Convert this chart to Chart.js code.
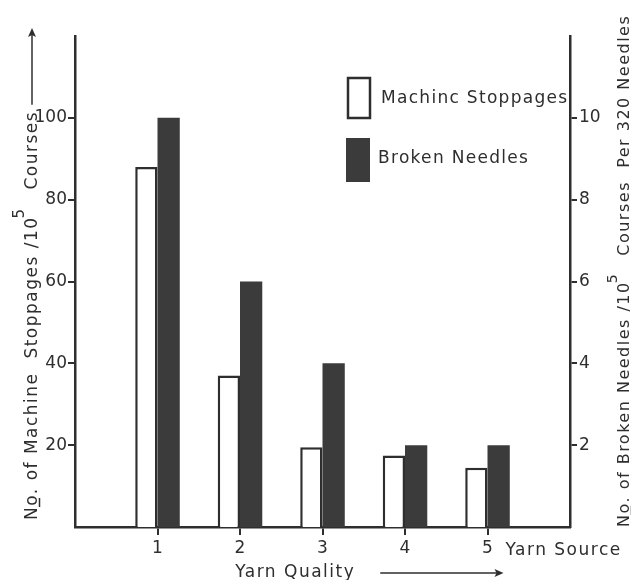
<!DOCTYPE html>
<html><head><meta charset="utf-8">
<script src="https://cdn.jsdelivr.net/npm/chart.js@4.4.0/dist/chart.umd.min.js"></script>
<style>html,body{margin:0;padding:0;background:#fff}#wrap{width:631px;height:580px}</style>
</head><body><div id="wrap"><canvas id="c" width="631" height="580"></canvas></div>
<script>
// ---- data ----
const categories = ['1', '2', '3', '4', '5'];
const machineStoppages = [88, 37, 19.5, 17.5, 14.5];   // left axis (per 10^5 courses)
const brokenNeedles = [10, 6, 4, 2, 2];                 // right axis (per 10^5 courses per 320 needles)
const leftTicks = [20, 40, 60, 80, 100];
const rightTicks = [2, 4, 6, 8, 10];
const seriesNames = ['Machinc Stoppages', 'Broken Needles'];
const xTitle = 'Yarn Quality';
const xEndLabel = 'Yarn Source';
const leftTitleSegs = [['No. of Machine  Stoppages /10', false], ['5', true], ['  Courses', false]];
const rightTitleSegs = [['No. of Broken Needles /10', false], ['5', true], ['  Courses  Per 320 Needles', false]];

const INK = '#2e2e2e';
const DARK = '#3b3b3b';
const FONT = '"DejaVu Sans", sans-serif';

const labels = ['', ...categories, ''];
const pad = arr => [null, ...arr, null];

function drawSegs(ctx, segs, size) {
  let x = 0;
  for (const [t, sup] of segs) {
    if (sup) {
      ctx.font = `${size - 2}px ${FONT}`;
      ctx.fillText(t, x - 2, -size * 0.75);
      x += ctx.measureText(t).width + 2;
    } else {
      ctx.font = `${size}px ${FONT}`;
      ctx.fillText(t, x, 0);
      x += ctx.measureText(t).width;
    }
  }
  return x;
}
function arrowHead(ctx, x, y) { // pointing +x in local frame
  ctx.beginPath();
  ctx.moveTo(x, y); ctx.lineTo(x - 9, y - 4); ctx.lineTo(x - 7, y); ctx.lineTo(x - 9, y + 4); ctx.closePath();
  ctx.fill();
}

const decor = {
  id: 'decor',
  afterDraw(chart) {
    const ctx = chart.ctx;
    ctx.save();
    ctx.fillStyle = INK; ctx.strokeStyle = INK;
    ctx.textBaseline = 'alphabetic';
    ctx.letterSpacing = '1.5px';

    // left title
    ctx.save();
    ctx.translate(37, 520); ctx.rotate(-Math.PI / 2);
    const lEnd = drawSegs(ctx, leftTitleSegs, 17);
    ctx.lineWidth = 1.5;
    ctx.beginPath(); ctx.moveTo(13, 2.5); ctx.lineTo(22, 2.5); ctx.stroke();
    const tipL = 520 - 28;
    ctx.beginPath(); ctx.moveTo(lEnd + 6, -5); ctx.lineTo(tipL - 4, -5); ctx.stroke();
    arrowHead(ctx, tipL, -5);
    ctx.restore();

    // right title
    ctx.save();
    ctx.translate(629, 527); ctx.rotate(-Math.PI / 2);
    drawSegs(ctx, rightTitleSegs, 16);
    ctx.lineWidth = 1.5;
    ctx.beginPath(); ctx.moveTo(12, 2.5); ctx.lineTo(21, 2.5); ctx.stroke();
    ctx.restore();

    // x titles
    ctx.font = `17px ${FONT}`;
    ctx.textAlign = 'left';
    const xs = chart.scales.x;
    const p5 = xs.getPixelForValue(5);
    ctx.fillText(xEndLabel, p5 + 18, 555);
    ctx.textAlign = 'center';
    ctx.fillText(xTitle, (xs.getPixelForValue(2) + xs.getPixelForValue(3)) / 2 + 14, 577);
    ctx.lineWidth = 1.5;
    const ax0 = xs.getPixelForValue(3.7), ax1 = p5 + 16;
    ctx.beginPath(); ctx.moveTo(ax0, 573); ctx.lineTo(ax1 - 4, 573); ctx.stroke();
    arrowHead(ctx, ax1, 573);

    // legend
    ctx.textAlign = 'left';
    ctx.textBaseline = 'middle';
    const lx = 348;
    ctx.lineWidth = 2.5;
    ctx.fillStyle = '#fff';
    ctx.fillRect(lx, 78, 22, 40);
    ctx.strokeRect(lx, 78, 22, 40);
    ctx.fillStyle = DARK;
    ctx.fillRect(lx - 2, 138, 24, 44);
    ctx.fillStyle = INK;
    ctx.letterSpacing = '1.3px';
    ctx.font = `17px ${FONT}`;
    ctx.fillText(seriesNames[0], 381, 99);
    ctx.fillText(seriesNames[1], 378, 159);
    ctx.restore();
  }
};

const tickFont = { family: FONT, size: 17 };
new Chart(document.getElementById('c'), {
  type: 'bar',
  data: {
    labels,
    datasets: [
      { label: seriesNames[0], data: pad(machineStoppages), yAxisID: 'y', backgroundColor: '#fff', borderColor: INK, borderWidth: 2.5, barPercentage: 1, categoryPercentage: 0.54 },
      { label: seriesNames[1], data: pad(brokenNeedles), yAxisID: 'y2', backgroundColor: DARK, borderWidth: 0, barPercentage: 1, categoryPercentage: 0.54 }
    ]
  },
  options: {
    responsive: false, animation: false, devicePixelRatio: 1,
    layout: { padding: { top: 36, left: 0, right: 0, bottom: 0 } },
    plugins: { legend: { display: false }, tooltip: { enabled: false } },
    scales: {
      x: {
        offset: false,
        grid: { offset: false, drawOnChartArea: false, drawTicks: true, tickLength: 8, lineWidth: 2, color: c => (c.index === 0 || c.index === labels.length - 1) ? 'rgba(0,0,0,0)' : INK },
        border: { display: true, color: INK, width: 2.5 },
        ticks: { font: tickFont, color: INK, padding: 3, autoSkip: false, maxRotation: 0 },
        afterFit: s => { s.height = 53; }
      },
      y: {
        position: 'left', min: 0, max: 120,
        afterBuildTicks: s => { s.ticks = leftTicks.map(v => ({ value: v })); },
        grid: { drawOnChartArea: false, drawTicks: true, tickLength: 7, lineWidth: 2, color: INK },
        border: { display: true, color: INK, width: 2.5 },
        ticks: { font: tickFont, color: INK, padding: 1 },
        afterFit: s => { s.width = 75; }
      },
      y2: {
        position: 'right', min: 0, max: 12,
        afterBuildTicks: s => { s.ticks = rightTicks.map(v => ({ value: v })); },
        grid: { drawOnChartArea: false, drawTicks: true, tickLength: 7, lineWidth: 2, color: INK },
        border: { display: true, color: INK, width: 2.5 },
        ticks: { font: tickFont, color: INK, padding: 2 },
        afterFit: s => { s.width = 61; }
      }
    }
  },
  plugins: [decor]
});
</script>
</body></html>
